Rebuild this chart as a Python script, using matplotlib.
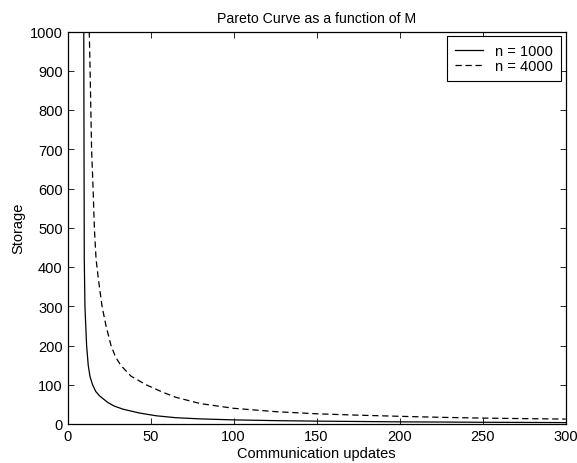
import numpy as np
import matplotlib.pyplot as plt

plt.rcParams['font.family'] = ['Liberation Sans', 'DejaVu Sans']

# values
m_1000 = [9.8, 9.9, 10.0, 10.1, 10.5, 11.5, 12.5, 13.6, 15.1, 17.0, 19.2, 24.2,
          28.0, 33.2, 43.3, 53.3, 65.3, 80.0, 100.0, 125.0, 150.0, 200.0, 250.0, 300.0]
s_1000 = [1000, 800, 600, 420, 300, 200, 149, 120, 100, 83, 72, 55,
          46, 38, 28, 21, 16, 13, 10.5, 8.6, 7.3, 5.5, 4.4, 3.6]

m_4000 = [13.1, 13.5, 14.5, 15.4, 16.2, 17.2, 18.6, 20.8, 23.2, 26.2, 29.0, 32.2, 38.2,
          47.3, 57.3, 65.3, 80.0, 100.0, 125.0, 150.0, 175.0, 200.0, 225.0, 250.0,
          275.0, 300.0]
s_4000 = [1000, 925, 700, 600, 497, 420, 369, 300, 250, 200, 170, 149, 122,
          100, 81, 68, 52, 40, 31.5, 26, 22.5, 19.6, 17, 15,
          13.7, 12.5]

labels = ['n = 1000', 'n = 4000']

fig = plt.figure(figsize=(5.77, 4.64), dpi=100)
ax = fig.add_axes([67.5/577, 1 - 425/464, (565.7 - 67.5)/577, (425 - 32.5)/464])

ax.plot(m_1000, s_1000, color='black', lw=0.9, label=labels[0])
ax.plot(m_4000, s_4000, color='black', lw=0.9, dashes=(5, 3), label=labels[1])

ax.set_xlim(0, 300)
ax.set_ylim(0, 1000)
ax.set_xticks(np.arange(0, 301, 50))
ax.set_yticks(np.arange(0, 1001, 100))
ax.tick_params(direction='in', top=True, right=True, length=4, labelsize=10.5, width=0.6)
for s in ax.spines.values():
    s.set_linewidth(0.9)

ax.set_title('Pareto Curve as a function of M', fontsize=10.2, pad=7)
ax.set_xlabel('Communication updates', fontsize=10.5, labelpad=2)
ax.set_ylabel('Storage', fontsize=10.5, labelpad=3)

leg = ax.legend(loc='upper right', fontsize=10.5, fancybox=False, framealpha=1,
                edgecolor='black', handlelength=1.9, borderpad=0.55, labelspacing=0.1,
                borderaxespad=0.3, handletextpad=0.85)
leg.get_frame().set_linewidth(0.8)

fig.savefig('out.png', dpi=100)
